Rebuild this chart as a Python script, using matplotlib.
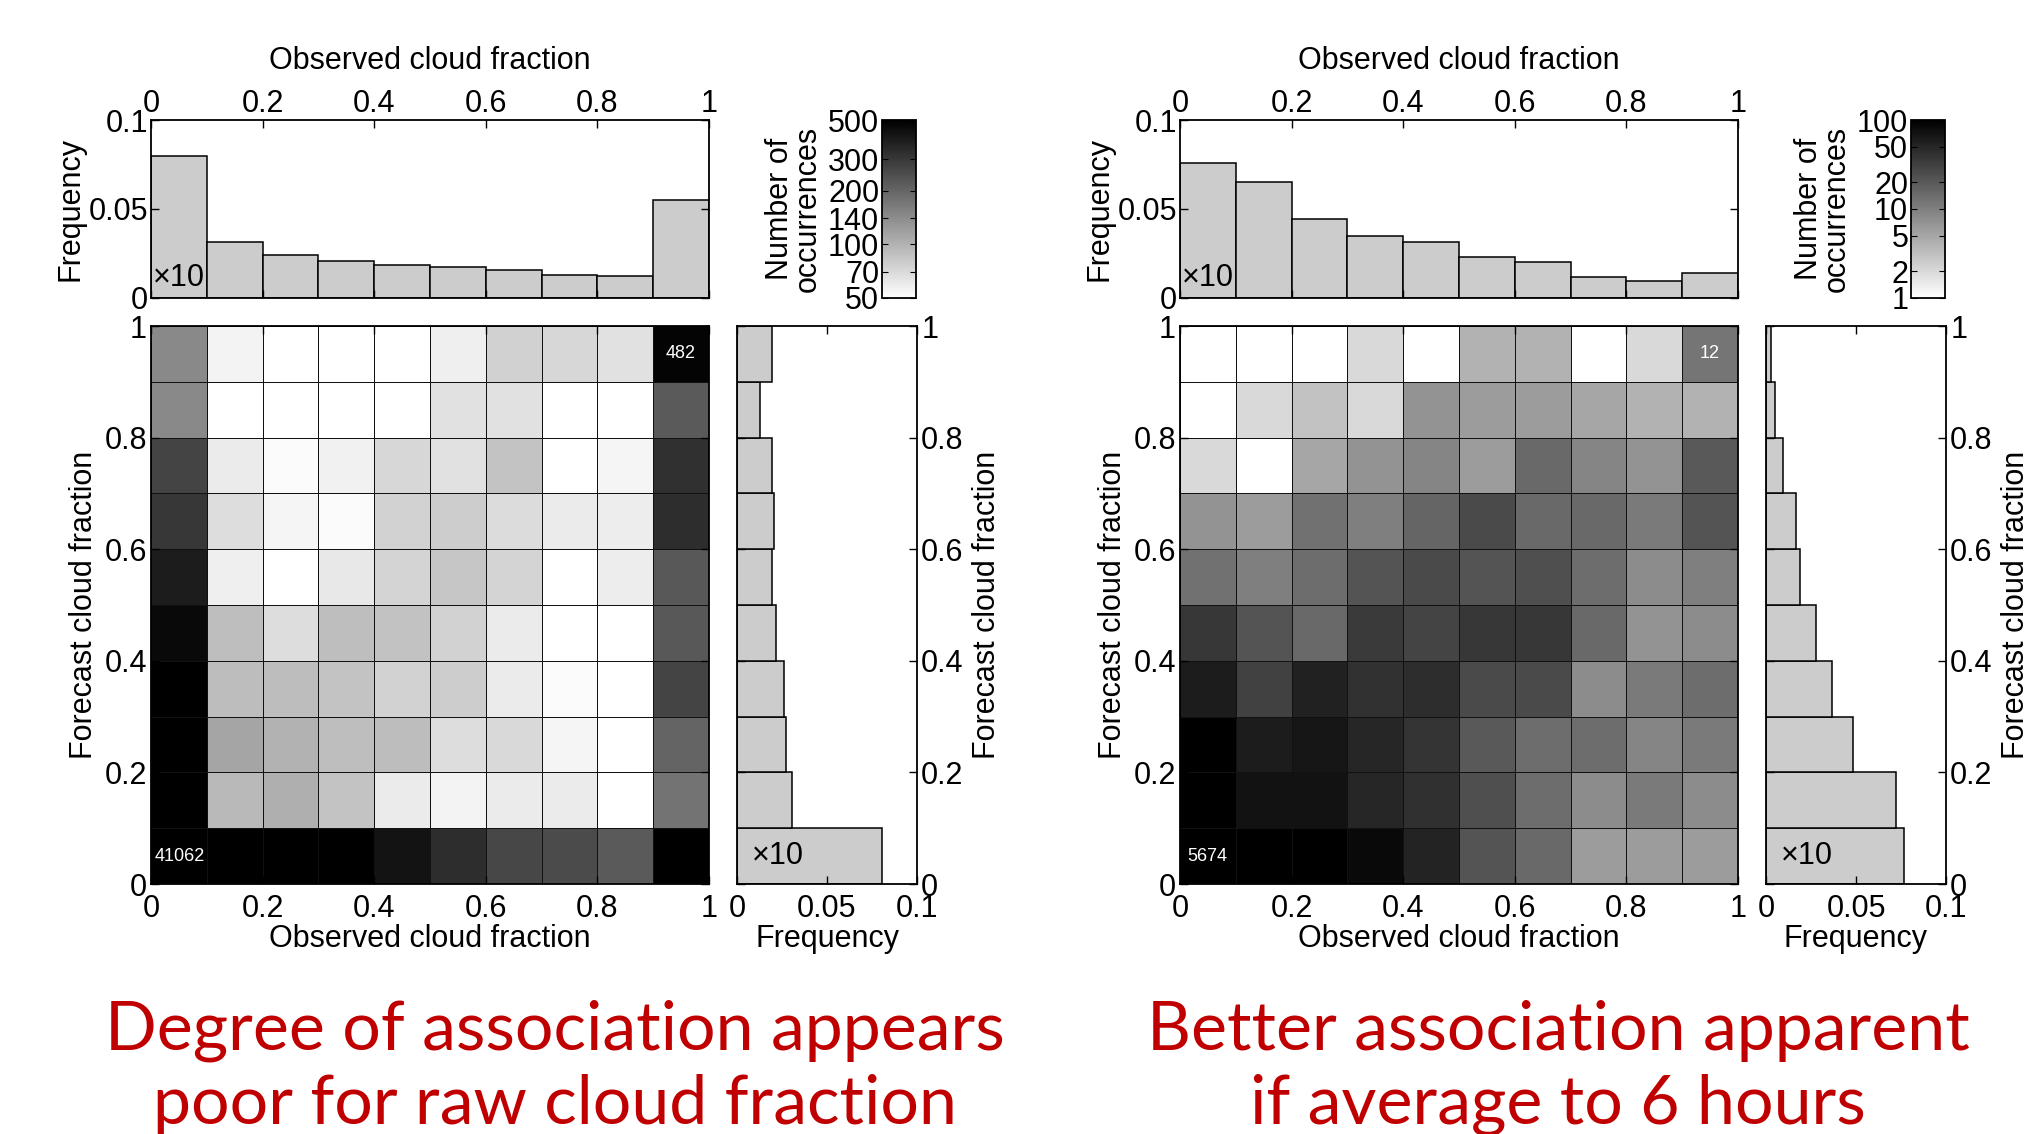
import numpy as np
import matplotlib.pyplot as plt
from matplotlib.colors import LogNorm

plt.rcParams['font.family'] = ['Liberation Sans', 'DejaVu Sans']

edges = np.linspace(0, 1, 11)
frac_ticks = [0, 0.2, 0.4, 0.6, 0.8, 1]
frac_labels = ['0', '0.2', '0.4', '0.6', '0.8', '1']

# counts per (forecast bin, observed bin); first row = forecast 0-0.1
raw_counts = np.array([
    [41062, 8000, 3000, 1200, 418, 333, 262, 254, 222, 2500],
    [5000, 94, 103, 86, 60, 56, 60, 60, 45, 177],
    [2000, 113, 100, 90, 91, 68, 71, 55, 45, 203],
    [900, 91, 91, 86, 75, 79, 60, 52, 45, 270],
    [457, 90, 68, 90, 87, 75, 60, 45, 45, 226],
    [388, 58, 45, 62, 74, 84, 74, 45, 59, 226],
    [304, 68, 55, 52, 75, 79, 69, 60, 59, 333],
    [270, 60, 52, 57, 72, 66, 86, 45, 55, 324],
    [145, 45, 45, 45, 45, 66, 66, 45, 45, 222],
    [145, 56, 45, 45, 45, 58, 76, 72, 66, 482],
])
avg_counts = np.array([
    [5674, 520, 160, 84, 53, 22, 15, 6, 6, 6],
    [450, 72, 72, 50, 42, 24, 14, 8, 11, 8],
    [180, 60, 67, 50, 39, 20, 14, 14, 9, 11],
    [60, 31, 55, 41, 44, 26, 26, 8, 11, 14],
    [37, 22, 15, 35, 29, 37, 37, 15, 7, 8],
    [13, 10, 14, 22, 26, 22, 24, 14, 8, 10],
    [7, 6, 13, 10, 16, 26, 15, 15, 11, 22],
    [2, 1, 5, 7, 9, 6, 15, 9, 7, 20],
    [1, 2, 3, 2, 7, 6, 6, 5, 4, 4],
    [1, 1, 1, 2, 1, 4, 4, 1, 2, 12],
])

# marginal frequencies (first bin shown divided by 10)
raw_obs_freq = [0.0795, 0.0313, 0.0239, 0.0209, 0.0185, 0.0172, 0.0159, 0.0132, 0.0123, 0.0552]
raw_fc_freq = [0.0803, 0.0303, 0.0274, 0.0263, 0.0219, 0.0193, 0.0204, 0.0193, 0.0128, 0.0193]
avg_obs_freq = [0.0757, 0.0649, 0.0444, 0.0347, 0.0313, 0.0228, 0.0203, 0.0119, 0.0095, 0.0138]
avg_fc_freq = [0.0766, 0.0722, 0.0484, 0.0366, 0.0275, 0.0187, 0.0165, 0.0092, 0.0048, 0.0026]

raw_cbar_ticks = [50, 70, 100, 140, 200, 300, 500]
avg_cbar_ticks = [1, 2, 5, 10, 20, 50, 100]

caption_left = ["Degree of association appears", "poor for raw cloud fraction"]
caption_right = ["Better association apparent", "if average to 6 hours"]

TICK = 22
LABEL = 22
BAR = '#cccccc'


def style_axes(ax):
    ax.tick_params(direction='in', length=6, width=1, labelsize=TICK,
                   top=True, right=True, bottom=True, left=True)
    for s in ax.spines.values():
        s.set_linewidth(1.3)


def draw_panel(fig, x0, counts, obs_freq, fc_freq, vmin, vmax, cticks, corner_x):
    W = 2042.0
    H = 1134.0
    top = fig.add_axes([x0 / W, 1 - 298 / H, 558 / W, 178 / H])
    main = fig.add_axes([x0 / W, 1 - 884 / H, 558 / W, 558 / H])
    side = fig.add_axes([(x0 + 586) / W, 1 - 884 / H, 180 / W, 558 / H])
    cax = fig.add_axes([(x0 + 731) / W, 1 - 298 / H, 34 / W, 178 / H])

    # top histogram of observed cloud fraction
    top.bar(edges[:-1], obs_freq, width=0.1, align='edge', color=BAR,
            edgecolor='black', linewidth=1.1)
    top.set_xlim(0, 1)
    top.set_ylim(0, 0.1)
    top.set_xticks(frac_ticks)
    top.set_xticklabels(frac_labels)
    top.set_yticks([0, 0.05, 0.1])
    top.set_yticklabels(['0', '0.05', '0.1'])
    style_axes(top)
    top.xaxis.tick_top()
    top.tick_params(axis='x', bottom=True, direction='in', pad=1)
    top.tick_params(axis='y', pad=2)
    top.xaxis.set_label_position('top')
    top.set_xlabel('Observed cloud fraction', fontsize=LABEL, labelpad=14)
    top.set_ylabel('Frequency', fontsize=LABEL, labelpad=2)
    top.text(0.004, 0.003, '\u00d710', fontsize=TICK, ha='left', va='bottom')

    # joint histogram
    norm = LogNorm(vmin=vmin, vmax=vmax, clip=True)
    mesh = main.pcolormesh(edges, edges, counts, cmap='gray_r', norm=norm,
                           edgecolors='#111111', linewidth=0.7)
    main.set_xlim(0, 1)
    main.set_ylim(0, 1)
    main.set_xticks(frac_ticks)
    main.set_xticklabels(frac_labels)
    main.set_yticks(frac_ticks)
    main.set_yticklabels(frac_labels)
    style_axes(main)
    main.tick_params(axis='y', pad=3)
    main.tick_params(axis='x', pad=7)
    main.set_xlabel('Observed cloud fraction', fontsize=LABEL, labelpad=0)
    main.set_ylabel('Forecast cloud fraction', fontsize=LABEL, labelpad=4)
    main.text(corner_x, 0.05, str(counts[0, 0]), color='white', fontsize=13,
              ha='left', va='center')
    main.text(0.95, 0.95, str(counts[-1, -1]), color='white', fontsize=13,
              ha='center', va='center')

    # side histogram of forecast cloud fraction
    side.barh(edges[:-1], fc_freq, height=0.1, align='edge', color=BAR,
              edgecolor='black', linewidth=1.1)
    side.set_xlim(0, 0.1)
    side.set_ylim(0, 1)
    side.set_xticks([0, 0.05, 0.1])
    side.set_xticklabels(['0', '0.05', '0.1'])
    side.set_yticks(frac_ticks)
    side.set_yticklabels(frac_labels)
    style_axes(side)
    side.yaxis.tick_right()
    side.tick_params(axis='y', left=True, direction='in', pad=3)
    side.tick_params(axis='x', pad=7)
    side.yaxis.set_label_position('right')
    side.set_ylabel('Forecast cloud fraction', fontsize=LABEL, rotation=90, labelpad=6)
    side.set_xlabel('Frequency', fontsize=LABEL, labelpad=0)
    side.text(0.008, 0.05, '\u00d710', fontsize=TICK, ha='left', va='center')

    # colour bar
    cb = fig.colorbar(mesh, cax=cax)
    cb.outline.set_linewidth(1.3)
    cb.minorticks_off()
    cb.set_ticks(cticks)
    cb.set_ticklabels([str(t) for t in cticks])
    cax.yaxis.set_ticks_position('left')
    cax.yaxis.set_label_position('left')
    cax.tick_params(direction='in', length=4, labelsize=TICK, pad=2, right=True)
    cax.set_ylabel('Number of\noccurrences', fontsize=LABEL, labelpad=4,
                   linespacing=0.9)


fig = plt.figure(figsize=(20.42, 11.34), dpi=100)

draw_panel(fig, 151, raw_counts, raw_obs_freq, raw_fc_freq, 50, 500,
           raw_cbar_ticks, 0.006)
draw_panel(fig, 1180, avg_counts, avg_obs_freq, avg_fc_freq, 1, 100,
           avg_cbar_ticks, 0.014)

red = '#c00000'
for cx, lines in [(555, caption_left), (1558, caption_right)]:
    for base_y, line in zip([1050, 1124], lines):
        fig.text(cx / 2042, 1 - base_y / 1134, line, color=red, fontsize=49,
                 family=['Lato', 'DejaVu Sans'], ha='center', va='baseline')

fig.savefig('out.png', dpi=100)
